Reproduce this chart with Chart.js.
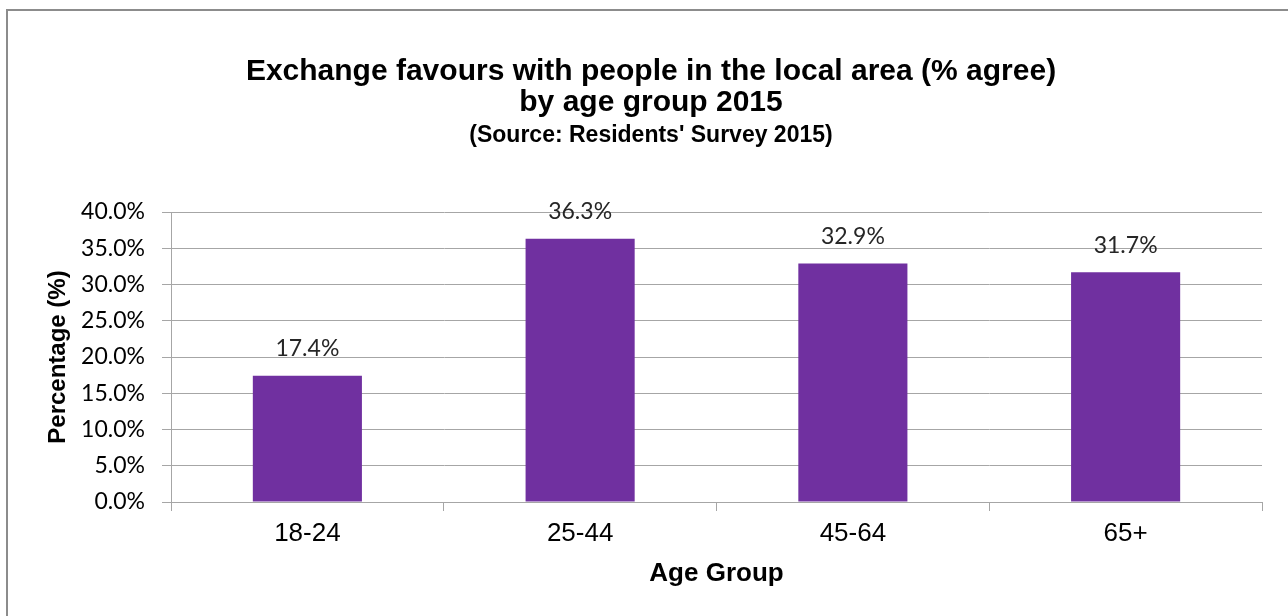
<!DOCTYPE html>
<html>
<head>
<meta charset="utf-8">
<title>Exchange favours by age group 2015</title>
<script src="https://cdn.jsdelivr.net/npm/chart.js@4.4.1/dist/chart.umd.min.js"></script>
<style>
  html, body { margin: 0; padding: 0; background: #ffffff; }
  #wrap { position: relative; width: 1288px; height: 616px; overflow: hidden; }
  #frame {
    position: absolute; left: 6px; top: 9px; width: 1400px; height: 700px;
    border-left: 2px solid #8c8c8c; border-top: 2px solid #8c8c8c;
  }
  canvas { position: absolute; left: 0; top: 0; }
</style>
</head>
<body>
<div id="wrap">
  <div id="frame"></div>
  <canvas id="chart" width="1288" height="616"></canvas>
</div>
<script>
// data
var ageGroups = ['18-24', '25-44', '45-64', '65+'];
var agreePct = [17.4, 36.3, 32.9, 31.7];

var titleLines = ['Exchange favours with people in the local area (% agree)', 'by age group 2015'];
var sourceLine = "(Source: Residents' Survey 2015)";

var gridGrey = '#a6a6a6';

// value labels above each bar
var barLabels = {
    id: 'barLabels',
    afterDatasetsDraw: function(chart) {
        var ctx = chart.ctx;
        var meta = chart.getDatasetMeta(0);
        ctx.save();
        ctx.font = '23px Lato';
        ctx.fillStyle = '#262626';
        ctx.textAlign = 'center';
        ctx.textBaseline = 'middle';
        meta.data.forEach(function(bar, i) {
            ctx.fillText(agreePct[i].toFixed(1) + '%', bar.x, bar.y - 27);
        });
        ctx.restore();
    }
};

function createChart(ctx) {
    var chartHandler = new Chart(ctx, {
        type: 'bar',
        data: {
            labels: ageGroups,
            datasets: [
                {
                    label: 'Agree',
                    data: agreePct,
                    backgroundColor: '#7030a0',
                    borderWidth: 0,
                    barPercentage: 0.4,
                    categoryPercentage: 1.0
                }
            ]
        },
        options: {
            responsive: false,
            animation: false,
            layout: {
                padding: { top: 52, left: 40, right: 26, bottom: 24 }
            },
            plugins: {
                legend: { display: false },
                tooltip: { enabled: false },
                title: {
                    display: true,
                    text: titleLines,
                    color: '#000000',
                    font: { family: 'Liberation Sans', size: 30, weight: 'bold', lineHeight: 1.04 },
                    padding: { top: 4, bottom: 2 }
                },
                subtitle: {
                    display: true,
                    text: sourceLine,
                    color: '#000000',
                    font: { family: 'Liberation Sans', size: 23, weight: 'bold', lineHeight: 1.2 },
                    padding: { top: 1, bottom: 63 }
                }
            },
            scales: {
                x: {
                    grid: {
                        display: true,
                        offset: true,
                        drawOnChartArea: false,
                        tickLength: 9,
                        color: gridGrey
                    },
                    border: { display: true, color: gridGrey, width: 1 },
                    ticks: {
                        color: '#000000',
                        padding: 7,
                        font: { family: 'Liberation Sans', size: 26 }
                    },
                    title: {
                        display: true,
                        text: 'Age Group',
                        color: '#000000',
                        font: { family: 'Liberation Sans', size: 26, weight: 'bold', lineHeight: 1.2 },
                        padding: { top: 4, bottom: 3 }
                    },
                    afterFit: function(scale) { scale.height = 90; }
                },
                y: {
                    min: 0,
                    max: 40,
                    grid: {
                        color: gridGrey,
                        tickLength: 9
                    },
                    border: { display: true, color: gridGrey, width: 1 },
                    ticks: {
                        stepSize: 5,
                        color: '#000000',
                        padding: 17,
                        font: { family: 'Lato', size: 23 },
                        callback: function(v) { return v.toFixed(1) + '%'; }
                    },
                    title: {
                        display: true,
                        text: 'Percentage (%)',
                        color: '#000000',
                        font: { family: 'Liberation Sans', size: 24, weight: 'bold', lineHeight: 1.2 },
                        padding: { top: 4, bottom: 4 }
                    },
                    afterFit: function(scale) { scale.width = 131; }
                }
            }
        },
        plugins: [barLabels]
    });
    return chartHandler;
}

createChart(document.getElementById('chart').getContext('2d'));
</script>
</body>
</html>
